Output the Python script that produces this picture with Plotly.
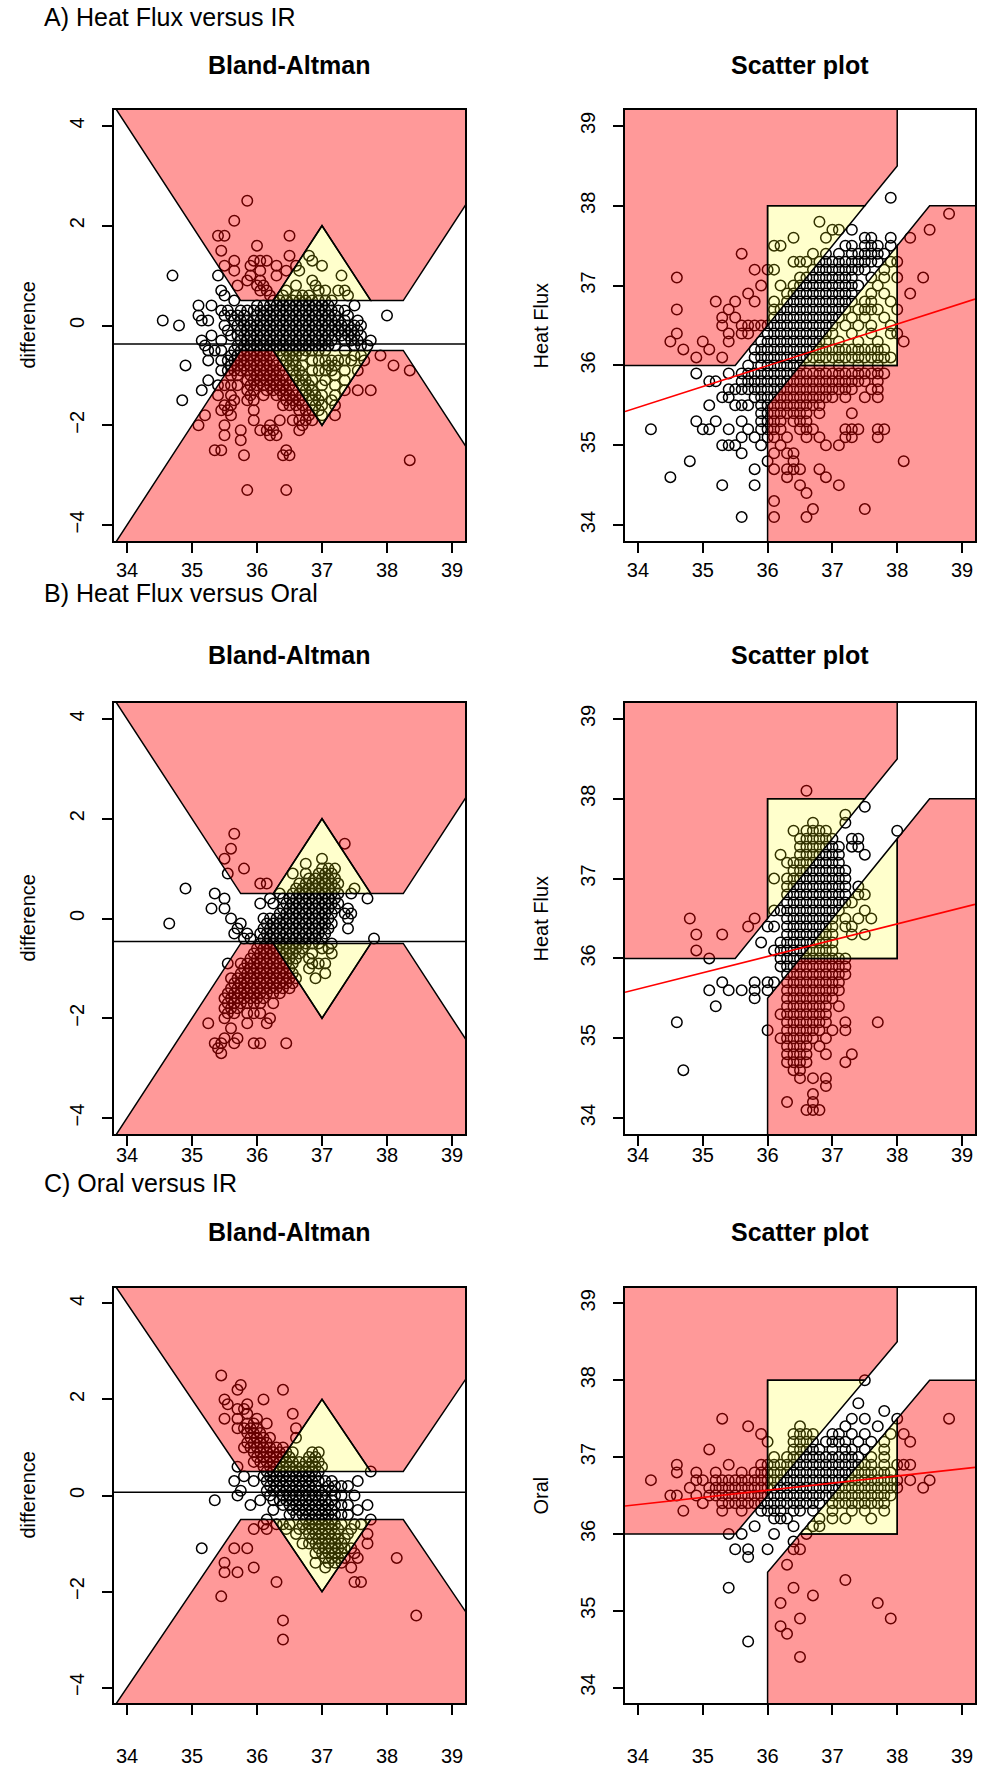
import plotly.graph_objects as go

W, H = 986, 1779
FONT = "Liberation Sans"

# ---------------- data ----------------
SECTION_LABELS = ["A) Heat Flux versus IR", "B) Heat Flux versus Oral", "C) Oral versus IR"]
SCATTER_YLABELS = ["Heat Flux", "Heat Flux", "Oral"]
BA_YLABEL = "difference"
PANEL_TITLES = ["Bland-Altman", "Scatter plot"]
X_TICKS = [34, 35, 36, 37, 38, 39]
BA_Y_TICKS = [-4, -2, 0, 2, 4]
SC_Y_TICKS = [34, 35, 36, 37, 38, 39]

# paired readings (x = reference method, y = compared method), grouped by y value
A_ROWS = {
    "38.1": "37.9",
    "37.9": "38.8",
    "37.8": "36.8",
    "37.7": "37.0 37.1 37.3 38.5",
    "37.6": "36.4 36.9 37.5 37.6 37.9 38.2",
    "37.5": "36.1 36.2 37.2 37.3 37.5 37.6 37.7 37.9",
    "37.4": "35.6 36.7 36.9 37.1 37.3 37.4 37.5 37.6 37.7 37.8",
    "37.3": "36.4 36.5 36.6 36.8 36.9-37.7 37.9 38.0",
    "37.2": "35.8 36.0 36.1 36.7-37.5 37.8",
    "37.1": "34.6 36.5-37.3 37.6 37.8 38.0 38.4",
    "37.0": "35.9 36.2 36.4-37.4 37.7 39.7",
    "36.9": "35.7 36.3 36.4-37.3 37.6 37.8 38.2",
    "36.8": "35.2 35.5 35.8 36.1 36.3-37.3 37.5 37.6 37.9",
    "36.7": "34.6 35.4 36.1 36.2-37.2 37.4 37.5 37.6 37.7 38.0",
    "36.6": "35.3 35.5 36.1-37.1 37.3 37.5 37.8",
    "36.5": "35.3 35.6 35.7 35.8 35.9 36.0-37.0 37.2 37.4 37.6 37.9",
    "36.4": "34.6 35.4 35.6 35.7 36.0-37.0 37.3 37.6 37.9 38.0",
    "36.3": "34.5 35.0 35.4 35.9-36.9 37.1 37.4 37.7 38.1",
    "36.2": "34.7 35.1 35.8-37.8",
    "36.1": "34.9 35.3 35.8-37.9",
    "36.0": "35.7 35.9-36.5 36.8 37.1 37.4 37.7",
    "35.9": "34.9 35.4 35.6 35.7-37.8",
    "35.8": "35.1 35.2 35.6-37.5 37.7",
    "35.7": "35.4 35.5 35.6 35.7-37.3 37.6 37.7",
    "35.6": "35.3 35.4 35.8 35.9 36.0-37.0 37.2 37.5 37.7",
    "35.5": "35.1 35.5 35.6 35.7 35.9 36.0-36.8",
    "35.4": "35.9 36.0-36.6 36.8 37.3",
    "35.3": "34.9 35.2 35.6 35.9 36.0 36.1 36.2 36.4 36.5 36.6",
    "35.2": "34.2 35.0 35.1 35.4 35.7 35.9 36.0 36.1 36.2 36.5 36.6 36.7 37.2 37.3 37.4 37.7 37.8",
    "35.1": "35.6 35.8 36.0 36.1 36.3 36.6 36.8 37.2 37.3 37.7",
    "35.0": "35.3 35.4 35.5 35.9 36.2 36.9 37.1",
    "34.9": "35.6 36.1 36.3 36.4",
    "34.8": "34.8 36.0 36.4 38.1",
    "34.7": "35.8 36.1 36.3 36.4 36.5 36.8",
    "34.6": "34.5 36.3 36.9",
    "34.5": "35.3 35.8 36.5 37.1",
    "34.4": "36.6",
    "34.3": "36.1",
    "34.2": "36.7 37.5",
    "34.1": "35.6 36.1 36.6",
}

B_ROWS = {
    "38.1": "36.6",
    "37.9": "37.5",
    "37.8": "37.2",
    "37.7": "36.7 37.2",
    "37.6": "36.4 36.6 36.7 36.8 36.9 38.0",
    "37.5": "36.5-37.0 37.3 37.4",
    "37.4": "36.5-37.1 37.3 37.4",
    "37.3": "36.2 36.5-37.1 37.5",
    "37.2": "36.3 36.4-37.1",
    "37.1": "36.4-37.2",
    "37.0": "36.1 36.3-37.2",
    "36.9": "36.3-37.2 37.4",
    "36.8": "36.3-37.2 37.4 37.5",
    "36.7": "36.3-37.1 37.2 37.3",
    "36.6": "36.1 36.2-37.1 37.5",
    "36.5": "34.8 35.8 36.3-37.0 37.2 37.4 37.6",
    "36.4": "35.7 36.0 36.1 36.3-37.0 37.2 37.3",
    "36.3": "34.9 35.3 36.3-37.0 37.3 37.5",
    "36.2": "35.9 36.2-37.0",
    "36.1": "34.9 36.1 36.2-37.0",
    "36.0": "35.1 36.2-37.1 37.2",
    "35.9": "36.2-37.2",
    "35.8": "36.3-37.2",
    "35.7": "35.3 35.8 36.0 36.1 36.3-37.1",
    "35.6": "35.1 35.4 35.6 35.8 36.0 36.3-37.1",
    "35.5": "35.8 36.3-37.0",
    "35.4": "35.2 36.3-36.9 37.1",
    "35.3": "36.2 36.3-36.9",
    "35.2": "34.6 36.3-36.9 37.2 37.7",
    "35.1": "36.0 36.3-36.8 37.0 37.2",
    "35.0": "36.2 36.3-36.7 36.9",
    "34.9": "36.3 36.4 36.5 36.6 36.8",
    "34.8": "36.3 36.4 36.5 36.6 36.9 37.3",
    "34.7": "36.3 36.4 36.5 36.6 37.2",
    "34.6": "34.7 36.4 36.5",
    "34.5": "36.5 36.7 36.9",
    "34.4": "36.9",
    "34.3": "36.7",
    "34.2": "36.3 36.7",
    "34.1": "36.6 36.7 36.8",
}

C_ROWS = {
    "38.0": "37.5",
    "37.7": "37.4",
    "37.6": "37.8",
    "37.5": "35.3 37.3 37.5 38.0 38.8",
    "37.4": "35.7 36.5 37.2 37.7",
    "37.3": "35.9 36.4 36.5 36.6 36.7 37.0 37.1 37.3 37.5 37.9 38.1",
    "37.2": "36.0 36.4 36.5 36.6 36.7 36.9 37.0 37.1 37.2 37.4 37.6 37.8 38.2 39.7",
    "37.1": "35.1 36.4-36.8 37.0 37.2 37.3 37.5 37.8",
    "37.0": "36.1 36.3-37.4 37.6 37.8",
    "36.9": "34.6 35.4 35.9 36.0 36.1-37.6 37.8 38.0 38.1 38.2",
    "36.8": "34.6 34.9 35.2 35.6 35.8 35.9 36.0-37.9",
    "36.7": "34.2 34.9 35.0 35.2-35.9 36.0-38.0 38.2 38.5",
    "36.6": "34.8 35.1 35.2-35.9 36.0-38.0 38.4",
    "36.5": "34.5 34.6 34.9 35.1-35.9 36.0-37.9",
    "36.4": "35.0 35.3-35.9 36.0 36.1-36.8 37.0-37.8",
    "36.3": "34.7 35.3 35.6 35.9 36.0 36.1 36.2 36.4 36.5 36.7 37.0 37.3 37.5 37.8",
    "36.2": "36.1 36.2 36.3 36.8 37.0 37.2 37.6",
    "36.1": "35.8 36.4 36.7 36.8",
    "36.0": "35.4 35.6 36.1 36.6",
    "35.9": "36.4",
    "35.8": "35.5 35.7 36.0 36.4 36.5",
    "35.7": "35.7",
    "35.6": "36.3",
    "35.4": "37.2",
    "35.3": "35.4 36.4",
    "35.2": "36.7",
    "35.1": "36.2 37.7",
    "34.9": "36.5 37.9",
    "34.8": "36.2",
    "34.7": "36.3",
    "34.6": "35.7",
    "34.4": "36.5",
}

BIAS = [-0.37, -0.46, 0.07]              # mean difference lines
REG_INTERCEPT = [26.60, 28.68, 33.22]    # red fitted lines
REG_SLOPE = [0.261, 0.204, 0.093]

# agreement zone thresholds
LOW, HIGH, TOL = 36.0, 38.0, 0.5

# ---------------- helpers ----------------
def parse(rows):
    xs, ys = [], []
    for yk, s in rows.items():
        y = float(yk)
        for tok in s.split():
            if "-" in tok[1:]:
                a, b = tok.split("-")
                for k in range(round(float(a) * 10), round(float(b) * 10) + 1):
                    xs.append(k / 10.0)
                    ys.append(y)
            else:
                xs.append(float(tok))
                ys.append(y)
    return xs, ys


F0, F1 = 28.0, 48.0
ZONES_RED = [
    [(F0, LOW), (LOW - TOL, LOW), (LOW, LOW + TOL), (LOW, HIGH), (HIGH - TOL, HIGH),
     (HIGH, HIGH + TOL), (HIGH, F1), (F0, F1)],
    [(LOW, F0), (LOW, LOW - TOL), (LOW + TOL, LOW), (HIGH, LOW), (HIGH, HIGH - TOL),
     (HIGH + TOL, HIGH), (F1, HIGH), (F1, F0)],
]
ZONES_YEL = [
    [(LOW, LOW + TOL), (LOW, HIGH), (HIGH - TOL, HIGH)],
    [(LOW + TOL, LOW), (HIGH, LOW), (HIGH, HIGH - TOL)],
]


def to_ba(poly):
    return [((x + y) / 2.0, y - x) for x, y in poly]


def path(poly):
    return "M " + " L ".join(f"{x:.4f},{y:.4f}" for x, y in poly) + " Z"


XR = [33.8, 39.2]
BA_YR = [-4.32, 4.32]
SC_YR = [33.8, 39.2]

# layout in page pixels
TOPS = [110, 703, 1288]
BOTS = [541, 1134, 1703]
TITLE_Y = [65, 655, 1232]
LABEL_Y = [17, 593, 1183]
XLAB_STANDOFF = [0, -8, 24]
BA_X = (114, 465)
SC_X = (625, 975)
LABEL_X = 42
BA_YLAB_X = 27
SC_YLAB_X = 540

RED = "rgba(255,0,0,0.4)"
YEL = "rgba(255,255,0,0.2)"


def px(v):
    return v / W


def py(v):
    return 1 - v / H


fig = go.Figure()
shapes = []
annotations = []
layout = {}

datasets = [parse(A_ROWS), parse(B_ROWS), parse(C_ROWS)]

tickfont = dict(family=FONT, size=20, color="black")

for r in range(3):
    xs, ys = datasets[r]
    top, bot = TOPS[r], BOTS[r]
    ydom = [py(bot), py(top)]
    for c in range(2):
        idx = r * 2 + c + 1
        sfx = "" if idx == 1 else str(idx)
        xref, yref = "x" + sfx, "y" + sfx
        xdom = BA_X if c == 0 else SC_X
        if c == 0:
            mx = [(a + b) / 2.0 for a, b in zip(xs, ys)]
            my = [b - a for a, b in zip(xs, ys)]
            yr, yt = BA_YR, BA_Y_TICKS
        else:
            mx, my = xs, ys
            yr, yt = SC_YR, SC_Y_TICKS

        fig.add_trace(go.Scatter(
            x=mx, y=my, mode="markers", xaxis=xref, yaxis=yref, showlegend=False,
            marker=dict(symbol="circle-open", size=10.5, color="black", line=dict(width=1.5)),
            hoverinfo="skip",
        ))

        axcommon = dict(showgrid=False, zeroline=False, showline=True, mirror=True,
                        linecolor="black", linewidth=1.5, ticks="outside", ticklen=10,
                        tickwidth=1.5, tickcolor="black", tickfont=tickfont, fixedrange=True)
        layout["xaxis" + sfx] = dict(domain=[px(xdom[0]), px(xdom[1])], range=XR,
                                     tickvals=X_TICKS, anchor=yref,
                                     ticklabelstandoff=XLAB_STANDOFF[r], **axcommon)
        layout["yaxis" + sfx] = dict(domain=ydom, range=yr, tickvals=yt, anchor=xref,
                                     tickangle=-90, ticklabelstandoff=10, **axcommon)

        # zones
        for poly in ZONES_RED:
            pp = to_ba(poly) if c == 0 else poly
            shapes.append(dict(type="path", path=path(pp), xref=xref, yref=yref, layer="above",
                               fillcolor=RED, line=dict(color="black", width=1.5)))
        for poly in ZONES_YEL:
            pp = to_ba(poly) if c == 0 else poly
            shapes.append(dict(type="path", path=path(pp), xref=xref, yref=yref, layer="above",
                               fillcolor=YEL, line=dict(color="black", width=1.5)))
        if c == 0:
            shapes.append(dict(type="line", xref=xref, yref=yref, x0=XR[0], x1=XR[1],
                               y0=BIAS[r], y1=BIAS[r], layer="above",
                               line=dict(color="black", width=1.5)))
        else:
            a, b = REG_INTERCEPT[r], REG_SLOPE[r]
            shapes.append(dict(type="line", xref=xref, yref=yref, x0=XR[0], x1=XR[1],
                               y0=a + b * XR[0], y1=a + b * XR[1], layer="above",
                               line=dict(color="red", width=1.6)))

        # panel title
        annotations.append(dict(text="<b>" + PANEL_TITLES[c] + "</b>", xref="paper", yref="paper",
                                x=px((xdom[0] + xdom[1]) / 2), y=py(TITLE_Y[r]),
                                xanchor="center", yanchor="middle", showarrow=False,
                                font=dict(family=FONT, size=25, color="black")))
        # y axis title
        ylab = BA_YLABEL if c == 0 else SCATTER_YLABELS[r]
        annotations.append(dict(text=ylab, xref="paper", yref="paper",
                                x=px(BA_YLAB_X if c == 0 else SC_YLAB_X), y=py((top + bot) / 2),
                                xanchor="center", yanchor="middle", textangle=-90, showarrow=False,
                                font=dict(family=FONT, size=20, color="black")))

    annotations.append(dict(text=SECTION_LABELS[r], xref="paper", yref="paper",
                            x=px(LABEL_X), y=py(LABEL_Y[r]), xanchor="left", yanchor="middle",
                            showarrow=False, font=dict(family=FONT, size=25, color="black")))

fig.update_layout(
    width=W, height=H, margin=dict(l=0, r=0, t=0, b=0),
    paper_bgcolor="white", plot_bgcolor="white",
    shapes=shapes, annotations=annotations, showlegend=False,
    **layout,
)

fig.write_html("out.html", config={"displayModeBar": False},
               post_script="document.body.style.margin='0px';document.body.style.padding='0px';")
